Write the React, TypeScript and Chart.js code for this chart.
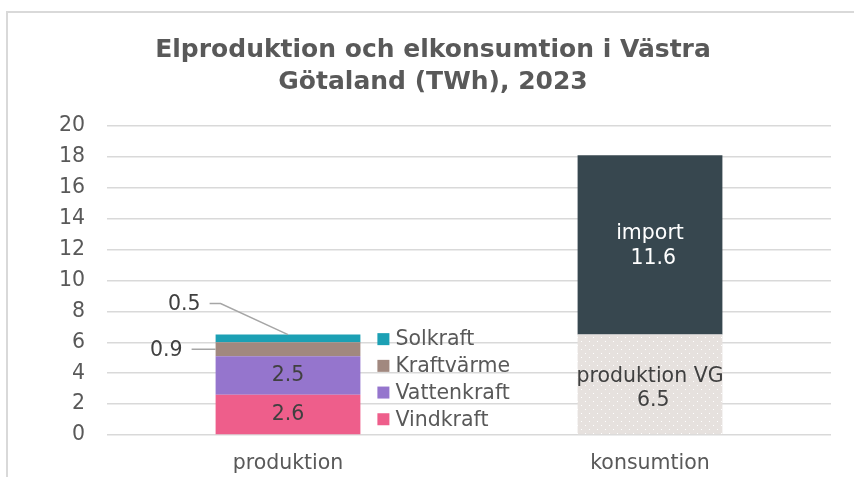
import React, { useEffect, useRef } from "react";
import { Chart, registerables } from "chart.js";

Chart.register(...registerables);

const categories = ["produktion", "konsumtion"];
const titleLines = ["Elproduktion och elkonsumtion i Västra", "Götaland (TWh), 2023"];
const seriesNames = ["Vindkraft", "Vattenkraft", "Kraftvärme", "Solkraft", "produktion VG", "import"];
const vindkraft = [2.6, null];
const vattenkraft = [2.5, null];
const kraftvarme = [0.9, null];
const solkraft = [0.5, null];
const produktionVG = [null, 6.5];
const importValues = [null, 11.6];
const yTicks = { min: 0, max: 20, step: 2 };

const COLORS = ["#EE5E8B", "#9575CD", "#A1887F", "#1CA0B4", "#E6E1DE", "#37474F"];
const FONT = "'DejaVu Sans', Verdana, sans-serif";
const TEXT = "#595959";
const LABEL = "#404040";
const FS = 20.5;

function makePattern(): CanvasPattern | string {
  const c = document.createElement("canvas");
  c.width = 8;
  c.height = 8;
  const g = c.getContext("2d");
  if (!g) return COLORS[4];
  g.fillStyle = COLORS[4];
  g.fillRect(0, 0, 8, 8);
  g.fillStyle = "#ffffff";
  g.fillRect(1, 1, 1, 1);
  g.fillRect(5, 5, 1, 1);
  const p = g.createPattern(c, "repeat");
  return p || COLORS[4];
}

const overlayPlugin = {
  id: "overlay",
  beforeDraw(chart: any) {
    const ctx = chart.ctx;
    ctx.save();
    ctx.strokeStyle = "#d9d9d9";
    ctx.lineWidth = 2;
    ctx.beginPath();
    ctx.moveTo(7, chart.height);
    ctx.lineTo(7, 12);
    ctx.lineTo(chart.width, 12);
    ctx.stroke();
    ctx.fillStyle = TEXT;
    ctx.font = `bold 25px ${FONT}`;
    ctx.textAlign = "center";
    ctx.textBaseline = "alphabetic";
    ctx.fillText(titleLines[0], 433, 57);
    ctx.fillText(titleLines[1], 433, 89);
    ctx.restore();
  },
  afterDatasetsDraw(chart: any) {
    const ctx = chart.ctx;
    const el = (d: number, i: number) => chart.getDatasetMeta(d).data[i];
    const mid = (e: any) => (e.y + e.base) / 2;
    ctx.save();
    ctx.font = `${FS}px ${FONT}`;
    ctx.textAlign = "center";
    ctx.textBaseline = "middle";
    ctx.fillStyle = LABEL;
    const v0 = el(0, 0);
    ctx.fillText(String(vindkraft[0]), v0.x, mid(v0));
    const v1 = el(1, 0);
    ctx.fillText(String(vattenkraft[0]), v1.x, mid(v1));
    const v2 = el(2, 0);
    const left = v2.x - v2.width / 2;
    ctx.strokeStyle = "#a6a6a6";
    ctx.lineWidth = 1.5;
    ctx.beginPath();
    ctx.moveTo(left - 24, mid(v2));
    ctx.lineTo(left, mid(v2));
    ctx.stroke();
    ctx.textAlign = "right";
    ctx.fillText(kraftvarme[0]!.toFixed(1), left - 33, mid(v2) + 1);
    const v3 = el(3, 0);
    const ty = v3.y - 31;
    ctx.beginPath();
    ctx.moveTo(left - 6, ty);
    ctx.lineTo(left + 5, ty);
    ctx.lineTo(v3.x, v3.y);
    ctx.stroke();
    ctx.fillText(solkraft[0]!.toFixed(1), left - 15, ty + 1);
    ctx.textAlign = "center";
    const p = el(4, 1);
    ctx.fillStyle = LABEL;
    ctx.fillText(seriesNames[4], p.x, mid(p) - 8);
    ctx.fillText(" " + produktionVG[1]!.toFixed(1), p.x, mid(p) + 16);
    const im = el(5, 1);
    ctx.fillStyle = "#ffffff";
    ctx.fillText(seriesNames[5], im.x, mid(im) - 11);
    ctx.fillText(" " + importValues[1]!.toFixed(1), im.x, mid(im) + 14);
    const right = v0.x + v0.width / 2;
    const bottom = v0.base;
    ctx.textAlign = "left";
    for (let k = 0; k < 4; k++) {
      const cy = bottom - 15 - k * 26.7;
      ctx.fillStyle = COLORS[k];
      ctx.fillRect(right + 17, cy - 6, 12, 12);
      ctx.fillStyle = TEXT;
      ctx.fillText(seriesNames[k], right + 35, cy + 1);
    }
    ctx.restore();
  },
};

export default function App() {
  const ref = useRef<HTMLCanvasElement | null>(null);
  useEffect(() => {
    if (!ref.current) return;
    const pattern = makePattern();
    const values = [vindkraft, vattenkraft, kraftvarme, solkraft, produktionVG, importValues];
    const datasets = values.map((v, i) => ({
      label: seriesNames[i],
      data: v,
      backgroundColor: i === 4 ? pattern : COLORS[i],
      borderWidth: 0,
      categoryPercentage: 1,
      barPercentage: 0.4,
    }));
    const chart = new Chart(ref.current, {
      type: "bar",
      data: { labels: categories, datasets: datasets as any },
      options: {
        responsive: false,
        animation: false,
        devicePixelRatio: 1,
        layout: { padding: { top: 126, right: 23, left: 0, bottom: 0 } },
        plugins: { legend: { display: false }, title: { display: false }, tooltip: { enabled: false } },
        scales: {
          x: {
            stacked: true,
            grid: { display: false, drawTicks: false },
            border: { display: false },
            ticks: { font: { family: FONT, size: FS }, color: TEXT, padding: 16 },
            afterFit: (s: any) => {
              s.height = 42;
            },
          },
          y: {
            stacked: true,
            min: yTicks.min,
            max: yTicks.max,
            ticks: { stepSize: yTicks.step, font: { family: FONT, size: FS }, color: TEXT, padding: 22 },
            grid: { color: "#d9d9d9", lineWidth: 1.5, drawTicks: false },
            border: { display: false },
            afterFit: (s: any) => {
              s.width = 107;
            },
          },
        },
      },
      plugins: [overlayPlugin],
    });
    return () => chart.destroy();
  }, []);
  return (
    <div style={{ position: "absolute", left: 0, top: 0, width: 854, height: 477, background: "#fff" }}>
      <canvas ref={ref} width={854} height={477} style={{ display: "block" }} />
    </div>
  );
}
